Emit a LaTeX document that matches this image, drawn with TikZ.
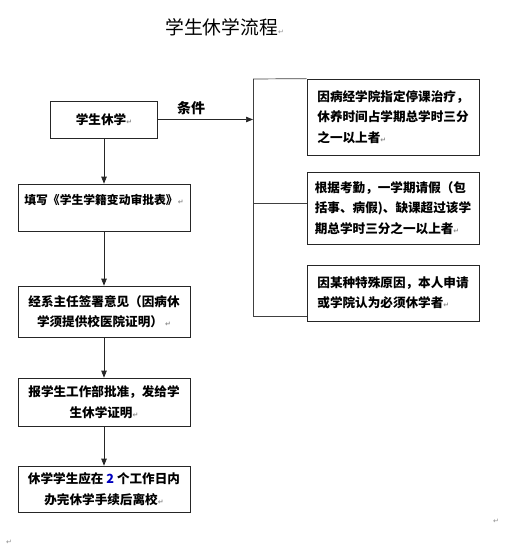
\documentclass[tikz,border=0pt]{standalone}
\usepackage{fontspec}
\newfontfamily\cjk{Noto Sans CJK SC}
\newfontfamily\djv{DejaVu Sans}
\usetikzlibrary{arrows.meta}
\newcommand{\retm}{{\djv\fontsize{7}{7}\selectfont\textcolor{black!45}{↵}}}
\begin{document}
\begin{tikzpicture}[x=1pt,y=-1pt,
  box/.style={draw=black!85, line width=0.7pt, inner sep=2pt, minimum width=172pt,
    font=\cjk\bfseries\fontsize{12.6}{20.5}\selectfont, align=center},
  rbox/.style={box, align=left},
  arr/.style={-{Triangle[length=7pt,width=5.5pt]}, line width=0.7pt, draw=black!85, fill=black!85},
  lnk/.style={line width=0.7pt, draw=black!75}]
\useasboundingbox (0,0) rectangle (528,548);

\node[anchor=west, inner sep=0pt, font=\cjk\fontsize{18.8}{20}\selectfont] (title) at (165,27) {学生休学流程\retm};

\node[box, minimum width=107pt, minimum height=37pt] (b1) at (104,119.5) {学生休学\retm};
\node[box, minimum height=47pt, text height=8pt, text depth=14pt, font=\cjk\bfseries\fontsize{11.8}{20.5}\selectfont] (b2) at (104,207.5) {填写《学生学籍变动审批表》\retm};
\node[box, minimum height=51pt] (b3) at (104,311.5) {经系主任签署意见（因病休\\学须提供校医院证明）\,\retm};
\node[box, minimum height=48pt] (b4) at (104,402) {报学生工作部批准，发给学\\生休学证明\retm};
\node[box, minimum height=46pt] (b5) at (104,489) {休学学生应在 \textcolor{blue!75!black}{2} 个工作日内\\办完休学手续后离校\retm};

\node[rbox, minimum height=76pt] (ra) at (393,117) {因病经学院指定停课治疗，\\休养时间占学期总学时三分\\之一以上者\retm};
\node[rbox, minimum height=72pt] (rb) at (393,208) {根据考勤，一学期请假（包\\括事、病假)、缺课超过该学\\期总学时三分之一以上者\retm};
\node[rbox, minimum height=56pt] (rc) at (393,293) {因某种特殊原因，本人申请\\或学院认为必须休学者\retm};

\node[font=\cjk\bfseries\fontsize{14}{16}\selectfont] (cond) at (191,108) {条件};

\coordinate (bt) at (253,79);
\coordinate (bm) at (253,203);
\coordinate (bb) at (253,316);

\draw[arr] (b1.east) -- (b1.east -| bt);
\draw[lnk] (bt) -- (bb);
\draw[lnk] (bt) -- (ra.north west);
\draw[lnk] (bm) -- (bm -| rb.west);
\draw[lnk] (bb) -- (bb -| rc.west);

\draw[arr] (b1) -- (b2);
\draw[arr] (b2) -- (b3);
\draw[arr] (b3) -- (b4);
\draw[arr] (b4) -- (b5);

\node[inner sep=0pt] (m1) at (496,521) {\retm};
\node[inner sep=0pt] (m2) at (9,542) {\retm};
\end{tikzpicture}
\end{document}
